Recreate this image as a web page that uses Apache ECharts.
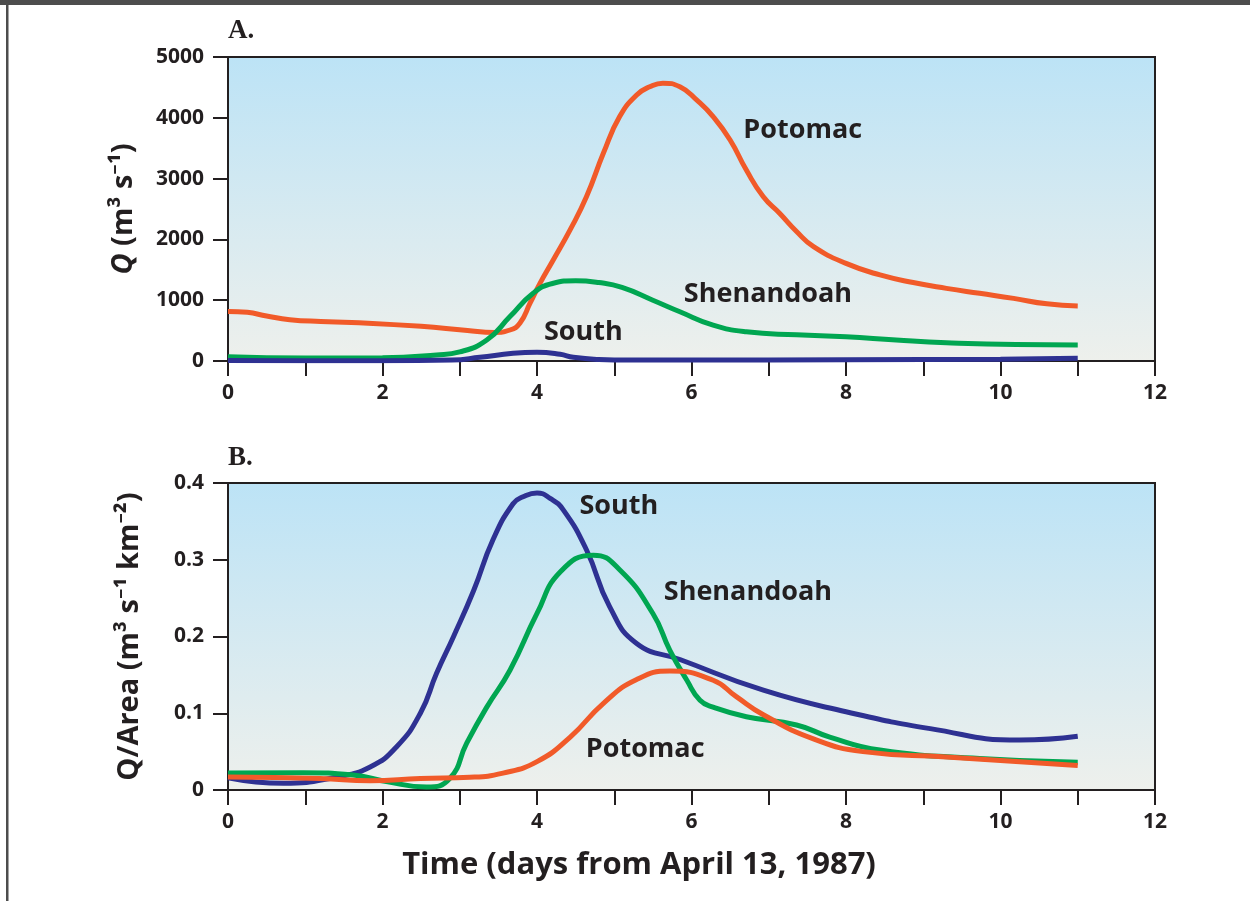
<!DOCTYPE html>
<html>
<head>
<meta charset="utf-8">
<script src="https://cdn.jsdelivr.net/npm/echarts@6/dist/echarts.min.js"></script>
<style>
html,body{margin:0;padding:0;background:#fff;}
#c{width:1250px;height:901px;}
</style>
</head>
<body>
<div id="c"></div>
<script>
// ---------- Data ----------
// Panel A: discharge Q (m3/s)
const potomacQ_t = [0, 0.25, 0.5, 0.8, 1.2, 1.6, 2.5, 3.1, 3.45, 3.65, 3.78, 3.91, 4.04, 4.21, 4.43, 4.64, 4.86, 5.07, 5.29, 5.46, 5.63, 5.85, 6.07, 6.28, 6.5, 6.71, 6.93, 7.14, 7.36, 7.58, 8.0, 8.44, 8.87, 9.3, 9.73, 10.17, 10.6, 11];
const potomacQ_v = [815, 800, 740, 680, 650, 635, 570, 500, 470, 510, 625, 950, 1280, 1660, 2160, 2700, 3420, 4020, 4375, 4510, 4570, 4510, 4290, 4020, 3635, 3140, 2700, 2430, 2130, 1880, 1605, 1415, 1290, 1195, 1113, 1030, 940, 905];

const shenQ_t = [0, 1, 2, 2.7, 3.0, 3.35, 3.65, 3.95, 4.2, 4.5, 4.8, 5.1, 5.5, 5.85, 6.28, 6.71, 7.36, 8.0, 8.65, 9.3, 10.2, 11];
const shenQ_v = [70, 50, 55, 100, 150, 345, 730, 1115, 1275, 1320, 1290, 1210, 1000, 810, 590, 480, 430, 400, 345, 300, 270, 265];

const southQ_t = [0, 1, 2, 2.9, 3.26, 3.69, 4.0, 4.3, 4.47, 4.8, 5.2, 6, 8, 10, 11];
const southQ_v = [10, 5, 5, 15, 60, 126, 143, 110, 60, 25, 15, 15, 20, 30, 45];

// Panel B: Q/Area (m3 s-1 km-2)
const southA_t = [0, 0.72, 1.41, 1.84, 2.18, 2.49, 2.70, 2.92, 3.18, 3.43, 3.69, 3.82, 4.0, 4.17, 4.34, 4.64, 4.94, 5.29, 5.85, 6.93, 8.0, 9.09, 10.25, 11];
const southA_v = [0.016, 0.0087, 0.017, 0.030, 0.056, 0.10, 0.152, 0.20, 0.26, 0.326, 0.373, 0.382, 0.387, 0.380, 0.365, 0.313, 0.239, 0.191, 0.170, 0.130, 0.102, 0.080, 0.065, 0.070];

const shenA_t = [0, 0.97, 1.62, 2.05, 2.57, 2.87, 3.09, 3.35, 3.65, 4.0, 4.30, 4.73, 5.07, 5.5, 5.72, 5.94, 6.11, 6.28, 6.71, 7.36, 7.79, 8.44, 9.73, 11];
const shenA_v = [0.022, 0.0226, 0.0195, 0.011, 0.004, 0.015, 0.061, 0.108, 0.156, 0.23, 0.284, 0.306, 0.287, 0.230, 0.182, 0.143, 0.117, 0.108, 0.0955, 0.0847, 0.069, 0.052, 0.041, 0.036];

const potomacA_t = [0, 1.19, 1.84, 2.49, 3.13, 3.56, 4.0, 4.43, 4.86, 5.29, 5.72, 6.28, 6.58, 6.93, 7.57, 8.22, 9.30, 11];
const potomacA_v = [0.017, 0.015, 0.012, 0.015, 0.0165, 0.022, 0.037, 0.069, 0.113, 0.144, 0.155, 0.143, 0.1216, 0.098, 0.067, 0.050, 0.043, 0.032];

// Tick settings
const xMin = 0, xMax = 12, xStep = 1;
const qMax = 5000, qStep = 1000;
const aMax = 0.4, aStep = 0.1;

// Curve labels: [name, t, value]
const labelsA = [["Potomac", 7.44, 3800], ["Shenandoah", 6.99, 1100], ["South", 4.6, 475]];
const labelsB = [["South", 5.06, 0.370], ["Shenandoah", 6.73, 0.258], ["Potomac", 5.40, 0.0534]];

const panelTitles = ["A.", "B."];
const xTitle = "Time (days from April 13, 1987)";
const yTitleA = "{q|Q} (m³ s⁻¹)";
const yTitleB = "Q/Area (m³ s⁻¹ km⁻²)";

// ---------- Styling ----------
const C_POT = '#f15a29', C_SHEN = '#00a651', C_SOUTH = '#2e3192';
const INK = '#231f20';
const FONT = '"Open Sans", "Noto Sans", sans-serif';

function pairs(t, v) { return t.map((x, i) => [x, v[i]]); }

const chart = echarts.init(document.getElementById('c'), null, {renderer: 'canvas'});

const bgGrad = () => new echarts.graphic.LinearGradient(0, 0, 0, 1, [
  {offset: 0, color: '#bce3f6'},
  {offset: 1, color: '#eef0ec'}
]);

function xAxisCfg(gridIndex) {
  return {
    type: 'value', gridIndex, min: xMin, max: xMax, interval: xStep,
    axisLine: {show: true, lineStyle: {color: INK, width: 2}},
    axisTick: {show: true, length: 15, lineStyle: {color: INK, width: 2}},
    splitLine: {show: false},
    axisLabel: {
      margin: 22, color: INK, fontSize: 21, fontWeight: 'bold', fontFamily: FONT,
      formatter: v => (v % 2 === 0 ? String(v) : '')
    }
  };
}

function yAxisCfg(gridIndex, max, step, name, fmt, gap) {
  const nameStyle = {fontSize: 29, fontWeight: 'bold', fontFamily: FONT, color: INK};
  return {
    type: 'value', gridIndex, min: 0, max, interval: step,
    name, nameLocation: 'middle', nameGap: gap, nameRotate: 90,
    nameTextStyle: Object.assign({}, nameStyle, {rich: {q: Object.assign({}, nameStyle, {fontStyle: 'italic'})}}),
    axisLine: {show: true, lineStyle: {color: INK, width: 2}},
    axisTick: {show: true, length: 15, lineStyle: {color: INK, width: 2}},
    splitLine: {show: false},
    axisLabel: {margin: 24, color: INK, fontSize: 21, fontWeight: 'bold', fontFamily: FONT, formatter: fmt}
  };
}

function lineSeries(name, t, v, color, xi, yi, labels) {
  const s = {
    name, type: 'line', xAxisIndex: xi, yAxisIndex: yi,
    data: pairs(t, v), smooth: 0.5,
    showSymbol: false, symbol: 'none',
    lineStyle: {color, width: 5, cap: 'butt'},
    itemStyle: {color}, z: 3
  };
  const lab = labels.find(l => l[0] === name);
  if (lab) {
    s.markPoint = {
      symbol: 'circle', symbolSize: 0, silent: true,
      data: [{name: lab[0], coord: [lab[1], lab[2]]}],
      label: {show: true, position: 'inside', formatter: p => p.name,
        color: INK, fontSize: 27, fontWeight: 'bold', fontFamily: FONT}
    };
  }
  return s;
}

const option = {
  backgroundColor: '#ffffff',
  animation: false,
  grid: [
    {left: 228, top: 57, width: 927, height: 304, show: true, backgroundColor: bgGrad(), borderColor: INK, borderWidth: 2},
    {left: 228, top: 483, width: 927, height: 307, show: true, backgroundColor: bgGrad(), borderColor: INK, borderWidth: 2}
  ],
  xAxis: [xAxisCfg(0), xAxisCfg(1)],
  yAxis: [
    yAxisCfg(0, qMax, qStep, yTitleA, v => String(v), 90),
    yAxisCfg(1, aMax, aStep, yTitleB, v => (v === 0 ? '0' : v.toFixed(1)), 84)
  ],
  series: [
    lineSeries('Potomac', potomacQ_t, potomacQ_v, C_POT, 0, 0, labelsA),
    lineSeries('Shenandoah', shenQ_t, shenQ_v, C_SHEN, 0, 0, labelsA),
    lineSeries('South', southQ_t, southQ_v, C_SOUTH, 0, 0, labelsA),
    lineSeries('South', southA_t, southA_v, C_SOUTH, 1, 1, labelsB),
    lineSeries('Shenandoah', shenA_t, shenA_v, C_SHEN, 1, 1, labelsB),
    lineSeries('Potomac', potomacA_t, potomacA_v, C_POT, 1, 1, labelsB)
  ],
  graphic: [
    {type: 'rect', left: 0, top: 0, shape: {width: 1250, height: 5}, style: {fill: '#4d4d4d'}, silent: true},
    {type: 'rect', left: 6, top: 0, shape: {width: 2.5, height: 901}, style: {fill: '#4d4d4d'}, silent: true},
    {type: 'text', left: 228, top: 18, style: {text: panelTitles[0], fill: INK, font: 'bold 27px "Liberation Serif", serif'}},
    {type: 'text', left: 228, top: 445, style: {text: panelTitles[1], fill: INK, font: 'bold 27px "Liberation Serif", serif'}},
    {type: 'text', x: 639, y: 865, style: {text: xTitle, fill: INK, font: 'bold 31px "Open Sans", "Noto Sans", sans-serif', textAlign: 'center', textVerticalAlign: 'middle'}}
  ]
};
chart.setOption(option);
</script>
</body>
</html>
